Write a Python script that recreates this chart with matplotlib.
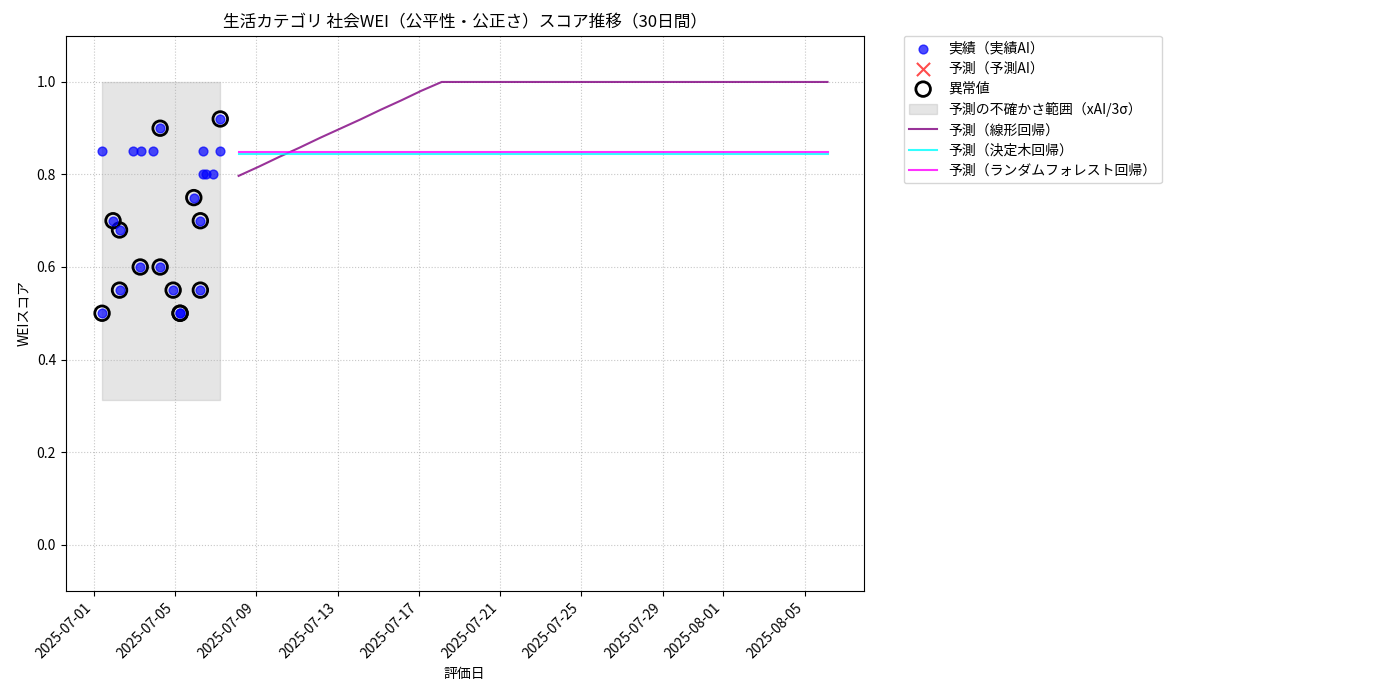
import matplotlib
matplotlib.use("Agg")
import matplotlib.pyplot as plt
import pandas as pd

plt.rcParams['font.family'] = ['Noto Sans CJK JP', 'DejaVu Sans']

# ---- data ----
actual_dates = ["2025-07-01 09:36", "2025-07-01 09:36", "2025-07-01 22:34", "2025-07-02 06:14",
                "2025-07-02 06:14", "2025-07-02 22:05", "2025-07-03 06:43", "2025-07-03 07:26",
                "2025-07-03 22:19", "2025-07-04 06:14", "2025-07-04 06:14", "2025-07-04 21:36",
                "2025-07-05 05:46", "2025-07-05 05:46", "2025-07-05 22:00", "2025-07-06 05:45",
                "2025-07-06 05:45", "2025-07-06 08:38", "2025-07-06 09:22", "2025-07-06 12:00",
                "2025-07-06 21:07", "2025-07-07 05:17", "2025-07-07 05:17"]
actual_values = [0.85, 0.50, 0.70, 0.68,
                 0.55, 0.85, 0.60, 0.85,
                 0.85, 0.90, 0.60, 0.55,
                 0.50, 0.50, 0.75, 0.70,
                 0.55, 0.80, 0.85, 0.80,
                 0.80, 0.85, 0.92]
outlier_flags = [False, True, True, True,
                 True, False, True, False,
                 False, True, True, True,
                 True, True, True, True,
                 True, False, False, False,
                 False, False, True]

forecast_start = "2025-07-08 03:00"
linear_pred = [0.797, 0.817, 0.838, 0.858, 0.879, 0.899, 0.919, 0.940, 0.960, 0.981,
               1.000, 1.000, 1.000, 1.000, 1.000, 1.000, 1.000, 1.000, 1.000, 1.000,
               1.000, 1.000, 1.000, 1.000, 1.000, 1.000, 1.000, 1.000, 1.000, 1.000]
tree_pred = [0.844, 0.844, 0.844, 0.844, 0.844, 0.844, 0.844, 0.844, 0.844, 0.844,
             0.844, 0.844, 0.844, 0.844, 0.844, 0.844, 0.844, 0.844, 0.844, 0.844,
             0.844, 0.844, 0.844, 0.844, 0.844, 0.844, 0.844, 0.844, 0.844, 0.844]
forest_pred = [0.848, 0.848, 0.848, 0.848, 0.848, 0.848, 0.848, 0.848, 0.848, 0.848,
               0.848, 0.848, 0.848, 0.848, 0.848, 0.848, 0.848, 0.848, 0.848, 0.848,
               0.848, 0.848, 0.848, 0.848, 0.848, 0.848, 0.848, 0.848, 0.848, 0.848]
band_low = 0.312
band_high = 1.0

# ---- plot ----
ad = pd.to_datetime(actual_dates)
fd = pd.date_range(forecast_start, periods=len(linear_pred), freq="D")
out_d = [d for d, f in zip(ad, outlier_flags) if f]
out_v = [v for v, f in zip(actual_values, outlier_flags) if f]

fig = plt.figure(figsize=(14, 7), dpi=100)
ax = fig.add_axes([0.047, 0.156, 0.570, 0.793])

h1 = ax.scatter(ad, actual_values, color="blue", alpha=0.7, s=40, label="実績（実績AI）", zorder=3)
h2 = ax.scatter([], [], color="red", alpha=0.7, marker="x", s=90, label="予測（予測AI）")
h3 = ax.scatter(out_d, out_v, facecolors="none", edgecolors="black", s=110, linewidths=2,
                label="異常値", zorder=2)
h4 = ax.fill_between([ad.min(), ad.max()], [band_low, band_low], [band_high, band_high],
                     color="gray", alpha=0.2, label="予測の不確かさ範囲（xAI/3σ）")
l1, = ax.plot(fd, linear_pred, color="purple", alpha=0.8, lw=1.5, label="予測（線形回帰）")
l2, = ax.plot(fd, tree_pred, color="cyan", alpha=0.8, lw=1.5, label="予測（決定木回帰）")
l3, = ax.plot(fd, forest_pred, color="magenta", alpha=0.8, lw=1.5, label="予測（ランダムフォレスト回帰）")

ax.set_ylim(-0.1, 1.1)
ax.set_title("生活カテゴリ 社会WEI（公平性・公正さ）スコア推移（30日間）", fontsize=12)
ax.set_xlabel("評価日")
ax.set_ylabel("WEIスコア")
ax.grid(True, linestyle=":", alpha=0.7)
plt.setp(ax.get_xticklabels(), rotation=45, ha="right")

ax.legend(handles=[h1, h2, h3, h4, l1, l2, l3], bbox_to_anchor=(1.05, 1), loc="upper left",
          borderaxespad=0.0, labelspacing=0.45)

fig.savefig("out.png", dpi=100)
